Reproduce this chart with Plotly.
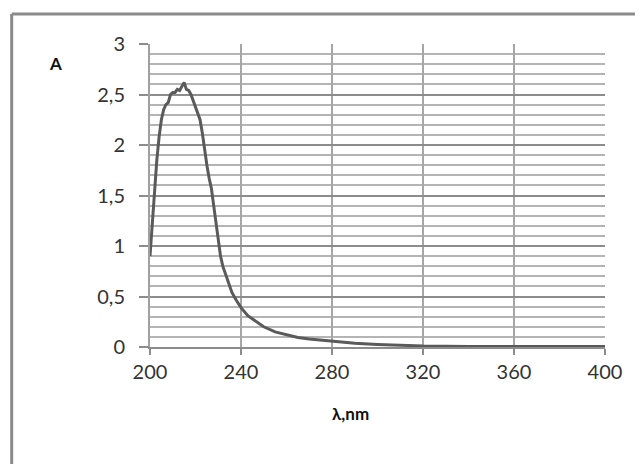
import plotly.graph_objects as go

wavelength = [200, 201, 202, 203, 204, 205, 206, 207, 208, 209, 210, 211, 212, 213, 214,
              215, 216, 217, 218, 219, 220, 221, 222, 223, 224, 225, 226, 227, 228, 229,
              230, 231, 232, 234, 236, 238, 240, 243, 246, 250, 255, 260, 265, 270, 275,
              280, 290, 300, 310, 320, 340, 360, 380, 400]
absorbance = [0.90, 1.25, 1.60, 1.85, 2.08, 2.25, 2.35, 2.40, 2.42, 2.50, 2.52, 2.52, 2.55, 2.54, 2.58,
              2.62, 2.55, 2.54, 2.50, 2.44, 2.37, 2.32, 2.25, 2.12, 1.95, 1.80, 1.67, 1.57, 1.40, 1.22,
              1.05, 0.90, 0.80, 0.66, 0.54, 0.46, 0.39, 0.31, 0.26, 0.20, 0.15, 0.12, 0.095, 0.08, 0.07,
              0.055, 0.037, 0.025, 0.016, 0.010, 0.006, 0.004, 0.004, 0.004]

x_ticks = [200, 240, 280, 320, 360, 400]
y_ticks = [0, 0.5, 1, 1.5, 2, 2.5, 3]

FONT = "Lato, 'Open Sans', sans-serif"

fig = go.Figure()
fig.add_trace(go.Scatter(
    x=wavelength, y=absorbance, mode="lines",
    line=dict(color="#5a5a5a", width=3),
    showlegend=False, hoverinfo="skip"))

fig.update_layout(
    width=643, height=464,
    margin=dict(l=141.5, r=46, t=36, b=125),
    paper_bgcolor="white", plot_bgcolor="white",
    separators=", ",
    font=dict(family=FONT, size=20, color="#333"),
    xaxis=dict(
        range=[200, 400], tickvals=x_ticks, ticks="outside", ticklen=6,
        tickcolor="#8c8c8c", tickwidth=2,
        showgrid=True, gridcolor="#a6a6a6", gridwidth=2,
        showline=True, linecolor="#8c8c8c", linewidth=2,
        zeroline=False, tickfont=dict(size=20, family=FONT, color="#333"),
    ),
    yaxis=dict(
        range=[0, 3], tickvals=y_ticks, ticks="outside", ticklen=9,
        tickcolor="#8c8c8c", tickwidth=2,
        showgrid=True, gridcolor="#8c8c8c", gridwidth=2,
        showline=True, linecolor="#a0a0a0", linewidth=2,
        zeroline=False, tickfont=dict(size=20, family=FONT, color="#333"),
        minor=dict(dtick=0.1, showgrid=True, gridcolor="#b4b4b4", gridwidth=2),
        ticklabelstandoff=10,
    ),
    annotations=[
        dict(text="<b>A</b>", x=-0.207, y=0.937, xref="paper", yref="paper",
             xanchor="center", yanchor="middle",
             showarrow=False, font=dict(size=17, family=FONT, color="#111")),
        dict(text="<b>λ,nm</b>", x=0.44, y=-0.218, xref="paper", yref="paper",
             xanchor="center", yanchor="middle",
             showarrow=False, font=dict(size=17, family=FONT, color="#111")),
    ],
    shapes=[
        dict(type="line", xref="paper", yref="paper", x0=-0.304, x1=1.12, y0=1.099, y1=1.099,
             line=dict(color="#8a8a8a", width=3)),
        dict(type="line", xref="paper", yref="paper", x0=-0.304, x1=-0.304, y0=1.099, y1=-0.42,
             line=dict(color="#8a8a8a", width=3)),
    ],
)

fig.write_html("out.html")
